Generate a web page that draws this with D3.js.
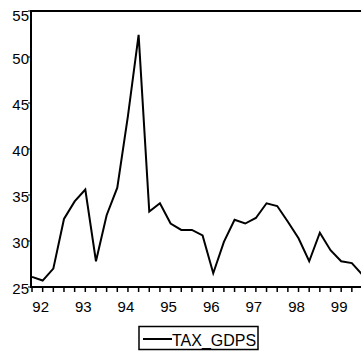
<!DOCTYPE html>
<html>
<head>
<meta charset="utf-8">
<script src="https://cdn.jsdelivr.net/npm/d3@7"></script>
<style>
  body { margin: 0; background: #fff; }
  svg { display: block; font-family: "Liberation Sans", Arial, sans-serif; }
</style>
</head>
<body>
<script>
// quarterly observations, 1991Q4 .. 1999Q3
var quarters = ["91Q4",
  "92Q1", "92Q2", "92Q3", "92Q4",
  "93Q1", "93Q2", "93Q3", "93Q4",
  "94Q1", "94Q2", "94Q3", "94Q4",
  "95Q1", "95Q2", "95Q3", "95Q4",
  "96Q1", "96Q2", "96Q3", "96Q4",
  "97Q1", "97Q2", "97Q3", "97Q4",
  "98Q1", "98Q2", "98Q3", "98Q4",
  "99Q1", "99Q2", "99Q3"];
var tax_gdps = [26.1,
  25.7, 27.0, 32.4, 34.3,
  35.6, 27.8, 32.8, 35.8,
  43.6, 52.4, 33.2, 34.1,
  31.9, 31.2, 31.2, 30.6,
  26.5, 29.9, 32.3, 31.9,
  32.5, 34.1, 33.8, 32.1,
  30.3, 27.8, 30.9, 29.0,
  27.8, 27.6, 26.3];
var yTicks = [25, 30, 35, 40, 45, 50, 55];
var yearLabels = ["92", "93", "94", "95", "96", "97", "98", "99"];

var w = 361, h = 353;
var plotLeft = 31, plotTop = 11, plotBottom = 287;

var svg = d3.select("body").append("svg")
  .attr("width", w)
  .attr("height", h);

var x = d3.scaleLinear().domain([0, quarters.length - 1]).range([32, 362.5]);
var y = d3.scaleLinear().domain([25, 55]).range([plotBottom, plotTop]);

// frame (right side runs off the picture)
svg.append("path")
  .attr("d", "M" + (w + 5) + "," + plotTop + "H" + plotLeft + "V" + plotBottom + "H" + (w + 5))
  .attr("fill", "none")
  .attr("stroke", "#000")
  .attr("stroke-width", 2);

// x ticks, one per quarter
svg.append("g").selectAll("line")
  .data(quarters)
  .enter().append("line")
  .attr("x1", function (d, i) { return x(i); })
  .attr("x2", function (d, i) { return x(i); })
  .attr("y1", plotBottom)
  .attr("y2", plotBottom + 5)
  .attr("stroke", "#000")
  .attr("stroke-width", 1.5);

// year labels at Q1
svg.append("g").selectAll("text")
  .data(yearLabels)
  .enter().append("text")
  .attr("x", function (d) { return x(quarters.indexOf(d + "Q1")) - 2; })
  .attr("y", 312)
  .attr("text-anchor", "middle")
  .attr("font-size", 15)
  .text(function (d) { return d; });

// y ticks and labels
var gy = svg.append("g");
gy.selectAll("line")
  .data(yTicks)
  .enter().append("line")
  .attr("x1", plotLeft - 3)
  .attr("x2", plotLeft)
  .attr("y1", function (d) { return y(d); })
  .attr("y2", function (d) { return y(d); })
  .attr("stroke", "#000")
  .attr("stroke-width", 1);
gy.selectAll("text")
  .data(yTicks)
  .enter().append("text")
  .attr("x", 29)
  .attr("y", function (d) { return d === 55 ? y(d) + 10 : y(d) + 7; })
  .attr("text-anchor", "end")
  .attr("font-size", 15)
  .text(function (d) { return d; });

// series
var line = d3.line()
  .x(function (d, i) { return x(i); })
  .y(function (d) { return y(d); });

svg.append("path")
  .datum(tax_gdps)
  .attr("d", line)
  .attr("fill", "none")
  .attr("stroke", "#000")
  .attr("stroke-width", 2)
  .attr("stroke-linejoin", "miter");

// legend
var lg = svg.append("g");
lg.append("rect")
  .attr("x", 139)
  .attr("y", 326.5)
  .attr("width", 119)
  .attr("height", 23)
  .attr("fill", "none")
  .attr("stroke", "#000")
  .attr("stroke-width", 1.5);
lg.append("line")
  .attr("x1", 143).attr("x2", 172)
  .attr("y1", 339).attr("y2", 339)
  .attr("stroke", "#000")
  .attr("stroke-width", 2);
lg.append("text")
  .attr("x", 172)
  .attr("y", 345.5)
  .attr("font-size", 16)
  .text("TAX_GDPS");
</script>
</body>
</html>
